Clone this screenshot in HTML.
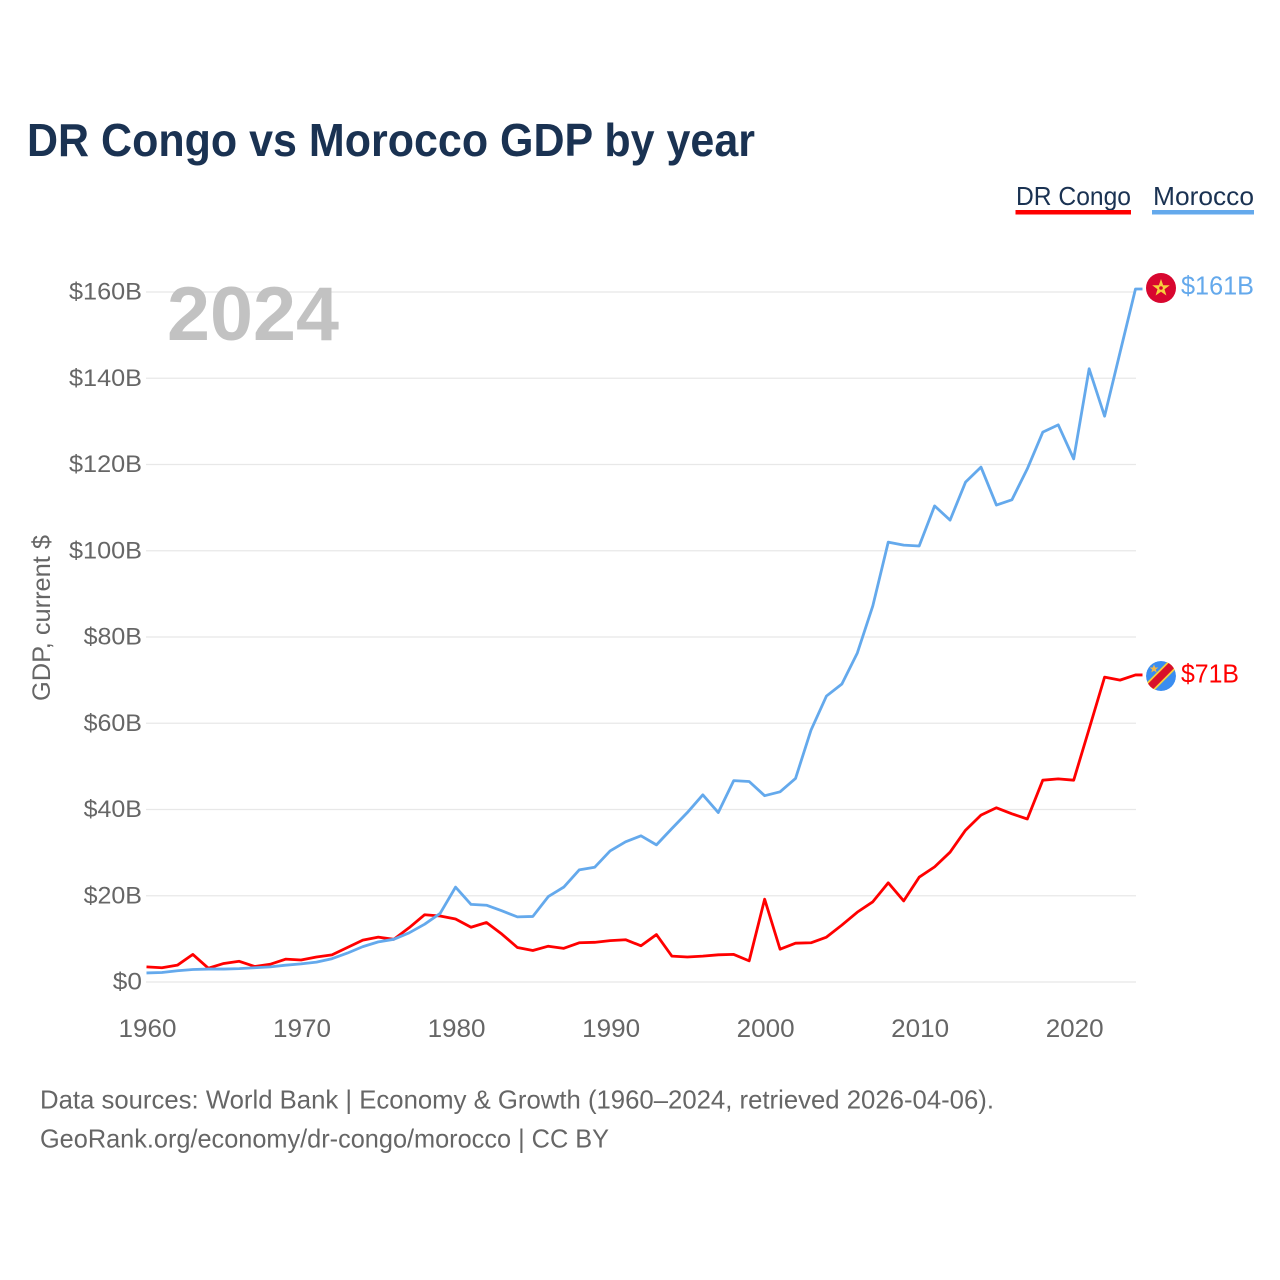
<!DOCTYPE html>
<html lang="en">
<head>
<meta charset="utf-8">
<title>DR Congo vs Morocco GDP by year</title>
<style>
html,body{margin:0;padding:0;background:#fff;}
svg{display:block;}
text{font-family:"Liberation Sans",sans-serif;}
</style>
</head>
<body>
<svg id="chart" width="1280" height="1280" viewBox="0 0 1280 1280" xmlns="http://www.w3.org/2000/svg">
  <defs>
    <clipPath id="flag-clip-cd"><circle cx="1161" cy="676" r="15"></circle></clipPath>
  </defs>
  <rect x="0" y="0" width="1280" height="1280" fill="#ffffff"></rect>
  <text x="27" y="156" font-size="46" font-weight="700" fill="#1a3252" textLength="728" lengthAdjust="spacingAndGlyphs">DR Congo vs Morocco GDP by year</text>

  <g>
    <text x="1016" y="205" font-size="26" fill="#1a3252" textLength="115" lengthAdjust="spacingAndGlyphs">DR Congo</text>
    <rect x="1015.5" y="210" width="115.5" height="4.5" fill="#ff0000"></rect>
    <text x="1153" y="205" font-size="26" fill="#1a3252" textLength="101" lengthAdjust="spacingAndGlyphs">Morocco</text>
    <rect x="1152" y="210" width="102" height="4.5" fill="#64a9ec"></rect>
  </g>

  <g id="grid"></g>
  <g id="y-ticks"></g>
  <g id="x-ticks"></g>

  <text x="167" y="340" font-size="76" font-weight="700" fill="#c2c2c2" textLength="172" lengthAdjust="spacingAndGlyphs">2024</text>
  <text transform="translate(50,618) rotate(-90)" text-anchor="middle" font-size="25" fill="#666666" textLength="166" lengthAdjust="spacingAndGlyphs">GDP, current $</text>

  <g id="series"></g>

  <g>
    <circle cx="1161" cy="288" r="15" fill="#d8072f"></circle>
    <polygon points="1161,279 1163.2,285.2 1169.8,285.2 1164.5,289.2 1166.4,295.5 1161,291.8 1155.6,295.5 1157.5,289.2 1152.2,285.2 1158.8,285.2" fill="#f7cf3c"></polygon>
    <circle cx="1161" cy="288" r="1.8" fill="#d8072f"></circle>
  </g>
  <g clip-path="url(#flag-clip-cd)">
    <circle cx="1161" cy="676" r="15" fill="#3a8df0"></circle>
    <line x1="1143" y1="694" x2="1179" y2="658" stroke="#f7cf3c" stroke-width="11"></line>
    <line x1="1143" y1="694" x2="1179" y2="658" stroke="#d8102a" stroke-width="7.5"></line>
    <polygon points="1154,664.5 1155.2,667.5 1158.4,667.5 1155.8,669.5 1156.8,672.5 1154,670.7 1151.2,672.5 1152.2,669.5 1149.6,667.5 1152.8,667.5" fill="#f2b84a"></polygon>
  </g>

  <text id="end-label-morocco" x="1181" y="294.5" font-size="26" fill="#64a9ec" textLength="73" lengthAdjust="spacingAndGlyphs">$161B</text>
  <text id="end-label-congo" x="1181" y="682.5" font-size="26" fill="#ff0000" textLength="58" lengthAdjust="spacingAndGlyphs">$71B</text>

  <text x="40" y="1108.5" font-size="26" fill="#666666" textLength="954" lengthAdjust="spacingAndGlyphs">Data sources: World Bank | Economy &amp; Growth (1960–2024, retrieved 2026-04-06).</text>
  <text x="40" y="1147.5" font-size="26" fill="#666666" textLength="569" lengthAdjust="spacingAndGlyphs">GeoRank.org/economy/dr-congo/morocco | CC BY</text>
</svg>
<script>
const startYear = 1960;
const congoValues = [3.5,3.3,3.9,6.4,3.2,4.3,4.8,3.6,4.1,5.3,5.1,5.8,6.3,8.0,9.7,10.4,9.9,12.6,15.6,15.3,14.6,12.7,13.8,11.1,8.0,7.3,8.3,7.8,9.1,9.2,9.6,9.8,8.4,11.0,6.0,5.8,6.0,6.3,6.4,4.9,19.2,7.6,9.0,9.1,10.4,13.2,16.2,18.6,23.0,18.8,24.3,26.7,30.1,35.2,38.7,40.4,39.0,37.8,46.8,47.1,46.8,58.7,70.7,70.0,71.2];
const moroccoValues = [2.1,2.2,2.6,2.9,3.0,3.0,3.1,3.3,3.5,3.9,4.2,4.6,5.4,6.7,8.2,9.3,9.9,11.4,13.4,15.9,22.0,18.0,17.8,16.5,15.1,15.2,19.8,22.0,26.0,26.6,30.4,32.5,33.9,31.8,35.6,39.3,43.4,39.3,46.7,46.5,43.2,44.1,47.2,58.4,66.3,69.1,76.3,87.2,102.0,101.3,101.1,110.4,107.1,115.9,119.4,110.6,111.8,119.0,127.5,129.2,121.3,142.2,131.2,146.0,160.7];
const yTickValues = [0,20,40,60,80,100,120,140,160];
const yTickLabels = ["$0","$20B","$40B","$60B","$80B","$100B","$120B","$140B","$160B"];
const xTickValues = [1960,1970,1980,1990,2000,2010,2020];
const xTickLabels = ["1960","1970","1980","1990","2000","2010","2020"];

const NS = "http://www.w3.org/2000/svg";
const plotLeft = 146.5, plotRight = 1135.5, plotBottom = 982, plotTop = 292;
function xScale(year){ return plotLeft + (year - 1960) * (plotRight - plotLeft) / 64; }
function yScale(v){ return plotBottom - v * (plotBottom - plotTop) / 160; }

const grid = document.getElementById("grid");
const yTicks = document.getElementById("y-ticks");
const xTicks = document.getElementById("x-ticks");
const seriesGroup = document.getElementById("series");

yTickValues.forEach(function(v, i){
  const gl = document.createElementNS(NS, "line");
  
  
  gl.setAttribute("x1", 146);
  gl.setAttribute("x2", 1136);
  gl.setAttribute("y1", yScale(v));
  gl.setAttribute("y2", yScale(v));
  gl.setAttribute("stroke", "#e8e8e8");
  gl.setAttribute("stroke-width", "1.3");
  grid.appendChild(gl);

  const t = document.createElementNS(NS, "text");
  
  
  t.setAttribute("x", 142);
  t.setAttribute("y", yScale(v) + 7.5);
  t.setAttribute("text-anchor", "end");
  t.setAttribute("font-size", "24");
  t.setAttribute("fill", "#666666");
  t.setAttribute("textLength", 14.6 * yTickLabels[i].length);
  t.setAttribute("lengthAdjust", "spacingAndGlyphs");
  t.textContent = yTickLabels[i];
  yTicks.appendChild(t);
});

xTickValues.forEach(function(y, i){
  const t = document.createElementNS(NS, "text");
  
  
  t.setAttribute("x", xScale(y) + 1);
  t.setAttribute("y", 1037);
  t.setAttribute("text-anchor", "middle");
  t.setAttribute("font-size", "25");
  t.setAttribute("fill", "#666666");
  t.setAttribute("textLength", "58");
  t.setAttribute("lengthAdjust", "spacingAndGlyphs");
  t.textContent = xTickLabels[i];
  xTicks.appendChild(t);
});

function pathFor(values){
  let d = "";
  values.forEach(function(v, i){
    d += (i ? "L" : "M") + xScale(startYear + i).toFixed(2) + " " + yScale(v).toFixed(2);
  });
  const last = values[values.length - 1];
  d += "L" + (xScale(startYear + values.length - 1) + 7).toFixed(2) + " " + yScale(last).toFixed(2);
  return d;
}

const congoLine = document.createElementNS(NS, "path");


congoLine.setAttribute("d", pathFor(congoValues));
congoLine.setAttribute("fill", "none");
congoLine.setAttribute("stroke", "#ff0000");
congoLine.setAttribute("stroke-width", "2.8");
congoLine.setAttribute("stroke-linejoin", "round");
seriesGroup.appendChild(congoLine);

const moroccoLine = document.createElementNS(NS, "path");


moroccoLine.setAttribute("d", pathFor(moroccoValues));
moroccoLine.setAttribute("fill", "none");
moroccoLine.setAttribute("stroke", "#64a9ec");
moroccoLine.setAttribute("stroke-width", "2.8");
moroccoLine.setAttribute("stroke-linejoin", "round");
seriesGroup.appendChild(moroccoLine);
</script>
</body>
</html>
